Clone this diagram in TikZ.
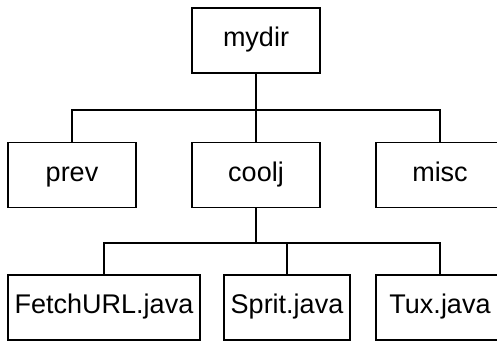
\documentclass[tikz,border=0pt]{standalone}
\usepackage{fontspec}
\setmainfont{Liberation Sans}

\tikzset{
	dirbox/.style = {draw, line width = 0.6pt, minimum width = 64pt, minimum height = 32.5pt, inner sep = 0pt, text height = 1.6ex, text depth = 0.45ex, font = \fontsize{13.5}{15}\selectfont},
	link/.style = {line width = 0.6pt}
}

\begin{document}
\begin{tikzpicture}[x = 0.5pt, y = -0.5pt]
		\clip (0, 0) rectangle (497, 341);
		\node[dirbox] (mydir) at (256, 40.5) {mydir};
		\node[dirbox] (prev) at (72, 175) {prev};
		\node[dirbox] (coolj) at (256, 175) {coolj};
		\node[dirbox] (misc) at (440, 175) {misc};
		\node[dirbox, minimum width = 96pt] (fetch) at (104, 307.5) {FetchURL.java};
		\node[dirbox, minimum width = 63pt] (sprit) at (287, 307.5) {Sprit.java};
		\node[dirbox] (tux) at (440, 307.5) {Tux.java};
		\coordinate (upper) at (0, 110);
		\coordinate (lower) at (0, 243);
		\draw[link] (mydir.south) -- (mydir.south |- upper);
		\draw[link] (prev.north) -- (prev.north |- upper) -| (misc.north);
		\draw[link] (coolj.north) -- (coolj.north |- upper);
		\draw[link] (coolj.south) -- (coolj.south |- lower);
		\draw[link] (fetch.north) -- (fetch.north |- lower) -| (tux.north);
		\draw[link] (sprit.north) -- (sprit.north |- lower);
	\end{tikzpicture}
\end{document}
